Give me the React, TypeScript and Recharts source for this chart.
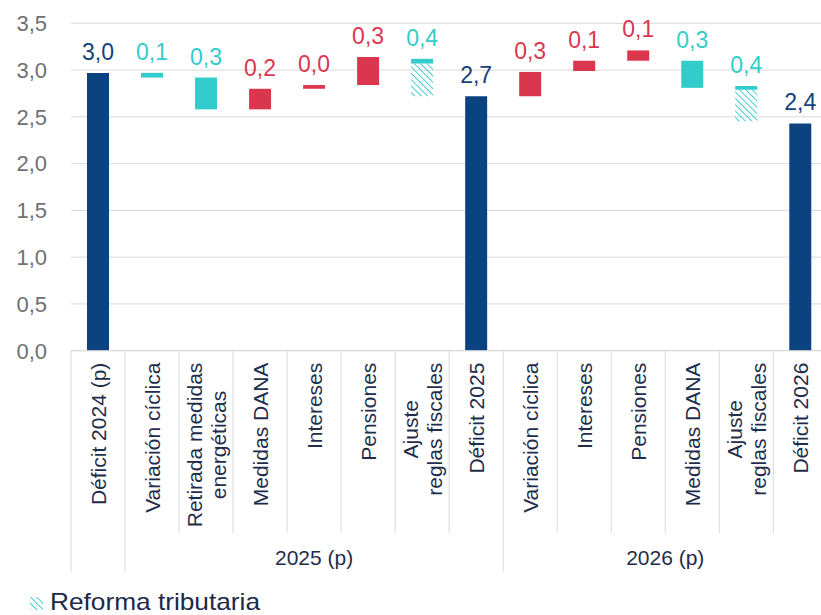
import React from 'react';
import { BarChart, Bar, XAxis, YAxis, CartesianGrid, Cell, LabelList } from 'recharts';

// categories (\n = line break in axis label)
const categories = [
  'Déficit 2024 (p)',
  'Variación cíclica',
  'Retirada medidas\nenergéticas',
  'Medidas DANA',
  'Intereses',
  'Pensiones',
  'Ajuste\nreglas fiscales',
  'Déficit 2025',
  'Variación cíclica',
  'Intereses',
  'Pensiones',
  'Medidas DANA',
  'Ajuste\nreglas fiscales',
  'Déficit 2026',
];

// floating bar bottom / top (% GDP)
const barLow = [0, 2.92, 2.58, 2.58, 2.8, 2.84, 2.72, 0, 2.72, 2.99, 3.1, 2.81, 2.45, 0];
const barHigh = [2.97, 2.97, 2.92, 2.8, 2.84, 3.14, 3.12, 2.72, 2.98, 3.1, 3.21, 3.1, 2.83, 2.43];
// part of the bar due to "Reforma tributaria" (hatched, at the bottom)
const reforma = [0, 0, 0, 0, 0, 0, 0.35, 0, 0, 0, 0, 0, 0.34, 0];
const kinds = ['total', 'down', 'down', 'up', 'up', 'up', 'down', 'total', 'up', 'up', 'up', 'down', 'down', 'total'];
const valueLabels = ['3,0', '0,1', '0,3', '0,2', '0,0', '0,3', '0,4', '2,7', '0,3', '0,1', '0,1', '0,3', '0,4', '2,4'];

const groupLabels = ['', '2025 (p)', '2026 (p)'];
const groupSizes = [1, 7, 6];

const yTicks = [0, 0.5, 1, 1.5, 2, 2.5, 3, 3.5];

const NAVY = '#0b4380';
const TEAL = '#33cccc';
const RED = '#da374f';
const kindColor: Record<string, string> = { total: NAVY, down: TEAL, up: RED };
const labelColor: Record<string, string> = { total: '#11427c', down: '#33cccc', up: '#da374f' };

const FONT = '"Liberation Sans", Arial, sans-serif';
const GRID = '#d9d9d9';

const W = 840;
const H = 615;
const PLOT_LEFT = 71;
const PLOT_RIGHT = 827.3;
const PLOT_TOP = 23.3;
const PLOT_BOTTOM = 350.7;
const BAND = (PLOT_RIGHT - PLOT_LEFT) / categories.length;

const data = categories.map((name, i) => ({
  id: String(i),
  name,
  base: barLow[i],
  hatch: reforma[i],
  solid: +(barHigh[i] - barLow[i] - reforma[i]).toFixed(3),
  label: valueLabels[i],
}));

// group start indexes
const groupStart: Record<number, number> = {};
{
  let s = 0;
  groupSizes.forEach((n, g) => {
    groupStart[s] = g;
    s += n;
  });
}

let ctx: CanvasRenderingContext2D | null = null;
function textWidth(s: string, size: number) {
  if (!ctx && typeof document !== 'undefined') ctx = document.createElement('canvas').getContext('2d');
  if (!ctx) return s.length * size * 0.5;
  ctx.font = `${size}px "Liberation Sans"`;
  return ctx.measureText(s).width;
}

const XTick = (props: any) => {
  const { x, y, payload, index } = props;
  const i = index ?? Number(payload.value);
  const band = payload.offset ? payload.offset * 2 : BAND;
  const left = x - band / 2;
  const lines = categories[i].split('\n');
  const fs = 21;
  const lh = 24;
  const longest = Math.max(...lines.map((l) => textWidth(l, fs)));
  const cx = -12 - longest / 2;
  const isStart = groupStart[i] !== undefined;
  const g = groupStart[i];
  return (
    <g>
      <line x1={left} x2={left} y1={y} y2={y + (isStart ? 221 : 182.6)} stroke={GRID} />
      {i === categories.length - 1 && (
        <line x1={left + band} x2={left + band} y1={y} y2={y + 221} stroke={GRID} />
      )}
      {isStart && groupLabels[g] && (
        <text
          x={left + (groupSizes[g] * band) / 2}
          y={y + 214}
          textAnchor="middle"
          fontSize={21}
          fontFamily={FONT}
          fill="#1f2d4b"
        >
          {groupLabels[g]}
        </text>
      )}
      <g transform={`translate(${x},${y}) rotate(-90)`}>
        {lines.map((l, k) => (
          <text
            key={k}
            x={cx}
            y={(k - (lines.length - 1) / 2) * lh}
            textAnchor="middle"
            dominantBaseline="central"
            fontSize={fs}
            fontFamily={FONT}
            fill="#1f2d4b"
          >
            {l}
          </text>
        ))}
      </g>
    </g>
  );
};

const ValueLabel = (props: any) => {
  const { x, y, width, index, value } = props;
  const k = kinds[index] || 'total';
  return (
    <text
      x={x + width / 2}
      y={y - 13}
      textAnchor="middle"
      fontSize={23}
      fontFamily={FONT}
      fill={labelColor[k]}
    >
      {value}
    </text>
  );
};

export default function App() {
  return (
    <div
      style={{
        position: 'absolute',
        left: 0,
        top: 0,
        width: 821,
        height: 615,
        overflow: 'hidden',
        background: '#fff',
      }}
    >
      <BarChart
        width={W}
        height={H}
        data={data}
        margin={{ top: PLOT_TOP, right: W - PLOT_RIGHT, left: 0, bottom: 0 }}
      >
        <defs>
          <pattern id="hatch" patternUnits="userSpaceOnUse" width="4.5" height="4.5" patternTransform="rotate(-45)">
            <line x1="0" y1="0" x2="0" y2="4.5" stroke={TEAL} strokeWidth="1.8" />
          </pattern>
        </defs>
        <CartesianGrid vertical={false} stroke={GRID} />
        <XAxis
          dataKey="id"
          height={H - PLOT_BOTTOM}
          tickSize={0}
          tickMargin={0}
          tickLine={false}
          axisLine={{ stroke: GRID }}
          interval={0}
          tick={<XTick />}
        />
        <YAxis
          width={PLOT_LEFT}
          domain={[0, 3.5]}
          ticks={yTicks}
          tickLine={false}
          axisLine={false}
          tickSize={6}
          tickMargin={18}
          tickFormatter={(v: number) => v.toFixed(1).replace('.', ',')}
          tick={{ fill: '#707070', fontSize: 22, fontFamily: FONT }}
        />
        <Bar dataKey="base" stackId="w" fill="transparent" barSize={22} isAnimationActive={false} />
        <Bar dataKey="hatch" stackId="w" fill="url(#hatch)" barSize={22} isAnimationActive={false} />
        <Bar dataKey="solid" stackId="w" barSize={22} isAnimationActive={false}>
          {data.map((_, i) => (
            <Cell key={i} fill={kindColor[kinds[i]]} />
          ))}
          <LabelList dataKey="label" content={<ValueLabel />} />
        </Bar>
      </BarChart>
      <svg
        width={821}
        height={35}
        style={{ position: 'absolute', left: 0, top: 580 }}
      >
        <rect x={30} y={17} width={13} height={13} fill="url(#hatch)" />
        <text
          x={50}
          y={30}
          fontSize={24}
          fontFamily={FONT}
          fill="#1c2a48"
          textLength={210}
          lengthAdjust="spacingAndGlyphs"
        >
          Reforma tributaria
        </text>
      </svg>
    </div>
  );
}
